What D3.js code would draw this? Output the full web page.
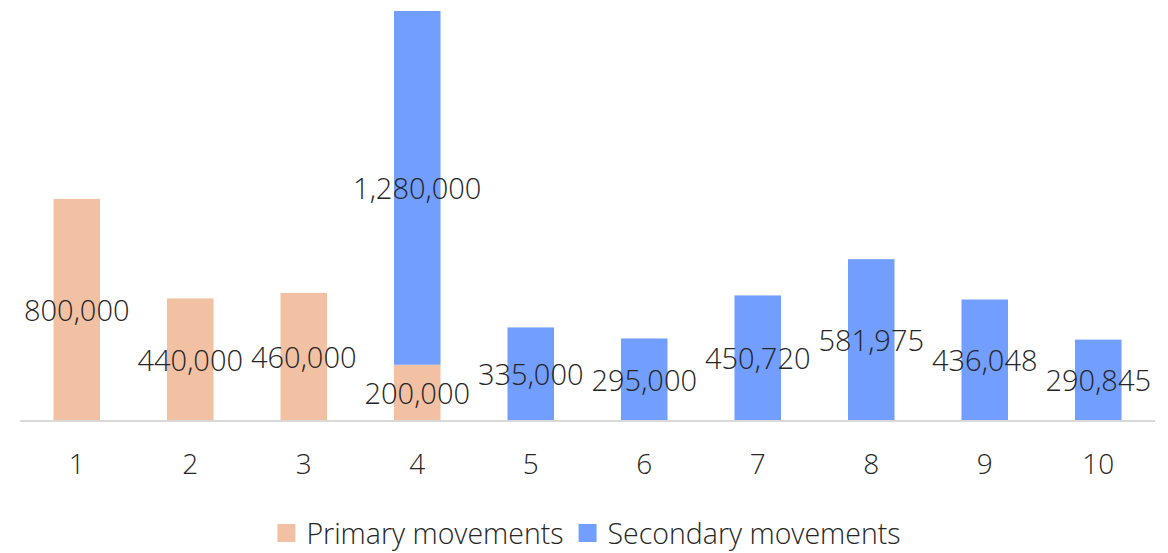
<!DOCTYPE html>
<html>
<head>
<meta charset="utf-8">
<script src="https://cdn.jsdelivr.net/npm/d3@7"></script>
<style>
    body { margin: 0; background: #fff; }
    svg text { font-family: "Open Sans", "Noto Sans", sans-serif; font-weight: 300; fill: #262626; }
</style>
</head>
<body>
<svg id="chart" width="1168" height="553"></svg>
<script>
'use strict';

const categories = ["1", "2", "3", "4", "5", "6", "7", "8", "9", "10"];
const primary = [800000, 440000, 460000, 200000, 0, 0, 0, 0, 0, 0];
const secondary = [0, 0, 0, 1280000, 335000, 295000, 450720, 581975, 436048, 290845];
const seriesNames = ["Primary movements", "Secondary movements"];
const colors = ["#F2C1A3", "#719EFF"];

const svg = d3.select("#chart");

const x = d3.scaleBand().domain(categories).range([20, 1155]).padding(0);
const y = d3.scaleLinear().domain([0, 1480000]).range([420, 11]);
const barWidth = x.bandwidth() * 0.41;

// stack the two series
const rows = categories.map((c, i) => ({ cat: c, primary: primary[i], secondary: secondary[i] }));
const stacked = d3.stack().keys(["primary", "secondary"])(rows);

const fmt = d3.format(",");

stacked.forEach((layer, k) => {
    const g = svg.append("g");
    layer.forEach((d) => {
        const v = d[1] - d[0];
        if (v <= 0) return;
        const cx = x(d.data.cat) + x.bandwidth() / 2;
        g.append("rect")
            .attr("x", cx - barWidth / 2)
            .attr("width", barWidth)
            .attr("y", y(d[1]))
            .attr("height", y(d[0]) - y(d[1]))
            .attr("fill", colors[k]);
    });
});

// baseline
svg.append("line")
    .attr("x1", 20).attr("x2", 1155)
    .attr("y1", y(0) + 1).attr("y2", y(0) + 1)
    .attr("stroke", "#d9d9d9").attr("stroke-width", 2);

// value labels, centered in each segment
stacked.forEach((layer) => {
    layer.forEach((d) => {
        const v = d[1] - d[0];
        if (v <= 0) return;
        svg.append("text")
            .attr("x", x(d.data.cat) + x.bandwidth() / 2)
            .attr("y", (y(d[0]) + y(d[1])) / 2)
            .attr("text-anchor", "middle")
            .attr("dominant-baseline", "central")
            .attr("font-size", 29)
            .text(fmt(v));
    });
});

// category axis
const xAxis = svg.append("g").attr("transform", "translate(0," + (y(0) + 1) + ")")
    .call(d3.axisBottom(x).tickSize(0).tickPadding(33));
xAxis.select(".domain").remove();
xAxis.selectAll("text")
    .attr("font-size", 28)
    .attr("font-family", null)
    .attr("fill", null);

// legend
const legend = svg.append("g");
let lx = 0;
seriesNames.forEach((name, i) => {
    const item = legend.append("g").attr("transform", "translate(" + lx + ",0)");
    item.append("rect").attr("x", 0).attr("y", -9).attr("width", 18).attr("height", 18).attr("fill", colors[i]);
    const t = item.append("text").attr("x", 29).attr("y", 0)
        .attr("dominant-baseline", "central")
        .attr("font-size", 28.5).text(name);
    lx += 29 + t.node().getComputedTextLength() + 15;
});
legend.attr("transform", "translate(" + (589 - (lx - 15) / 2) + ",533)");
</script>
</body>
</html>
